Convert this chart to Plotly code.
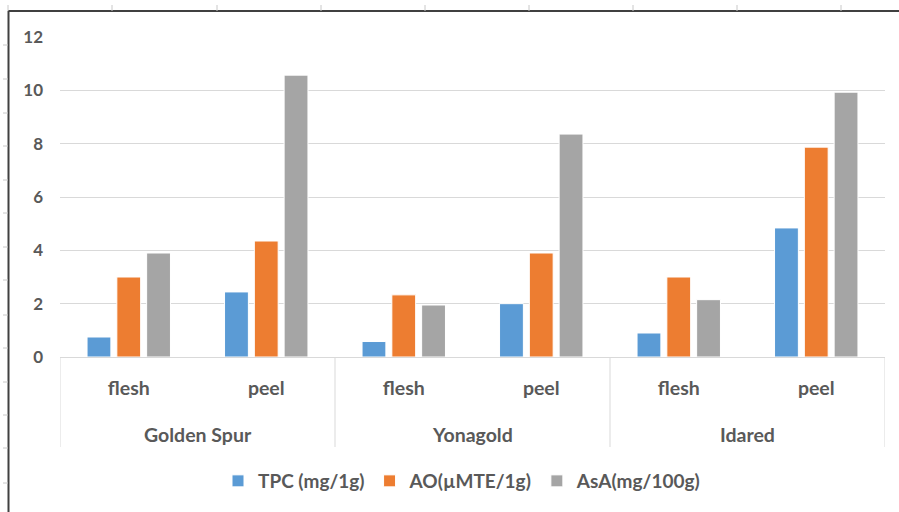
import plotly.graph_objects as go

varieties = ["Golden Spur", "Golden Spur", "Yonagold", "Yonagold", "Idared", "Idared"]
parts = ["flesh", "peel", "flesh", "peel", "flesh", "peel"]
tpc = [0.75, 2.44, 0.58, 2.0, 0.9, 4.84]
ao = [3.0, 4.35, 2.33, 3.9, 3.0, 7.87]
asa = [3.9, 10.57, 1.95, 8.36, 2.15, 9.93]
series_names = ["TPC (mg/1g)", "AO(\u00b5MTE/1g)", "AsA(mg/100g)"]
colors = ["#5B9BD5", "#ED7D31", "#A5A5A5"]
y_ticks = [0, 2, 4, 6, 8, 10, 12]

FONT = "Lato"
GREY = "#595959"
DIV = "#d9d9d9"

xpos = list(range(len(parts)))

fig = go.Figure()
for name, vals, col in zip(series_names, [tpc, ao, asa], colors):
    fig.add_trace(go.Bar(
        x=xpos, y=vals, name=name,
        marker=dict(color=col, line=dict(color="white", width=1)),
    ))

# plot area: x pixels 60..885, y pixels 37..357
def px_to_xp(px):
    return (px - 60) / 825

def py_to_yp(py):
    return (357 - py) / 320

shapes = []
annotations = []

# group labels and dividers
groups = []
for i, v in enumerate(varieties):
    if not groups or groups[-1][0] != v:
        groups.append([v, i, i])
    else:
        groups[-1][2] = i
bounds = [g[1] - 0.5 for g in groups] + [groups[-1][2] + 0.5]
for b in bounds:
    shapes.append(dict(type="line", xref="x", yref="paper", x0=b, x1=b, y0=0, y1=py_to_yp(447),
                       line=dict(color=DIV, width=1)))
for v, i0, i1 in groups:
    annotations.append(dict(x=(i0 + i1) / 2, y=py_to_yp(434), xref="x", yref="paper",
                            text=v, showarrow=False, xanchor="center", yanchor="middle",
                            font=dict(family=FONT, size=19.5, color=GREY, weight="bold")))

# spreadsheet frame
shapes.append(dict(type="line", xref="paper", yref="paper", x0=px_to_xp(8), x1=px_to_xp(899),
                   y0=py_to_yp(11), y1=py_to_yp(11), line=dict(color="#404040", width=2)))
shapes.append(dict(type="line", xref="paper", yref="paper", x0=px_to_xp(8.5), x1=px_to_xp(8.5),
                   y0=py_to_yp(11), y1=py_to_yp(512), line=dict(color="#404040", width=2)))
for px in [8, 112, 217, 321, 425, 529, 633, 737, 841]:
    shapes.append(dict(type="line", xref="paper", yref="paper", x0=px_to_xp(px), x1=px_to_xp(px),
                       y0=py_to_yp(11), y1=py_to_yp(5), line=dict(color="#c8c8c8", width=1)))
for py in [45, 79, 113, 146, 180, 213, 247, 280, 315, 348, 382, 415, 448, 483]:
    shapes.append(dict(type="line", xref="paper", yref="paper", x0=px_to_xp(3), x1=px_to_xp(8),
                       y0=py_to_yp(py), y1=py_to_yp(py), line=dict(color="#c8c8c8", width=1)))

fig.update_layout(
    width=899, height=512,
    margin=dict(l=60, r=14, t=37, b=155),
    paper_bgcolor="white", plot_bgcolor="white",
    barmode="group", bargap=0.35, bargroupgap=0.2,
    font=dict(family=FONT, color=GREY, size=18),
    showlegend=True,
    legend=dict(orientation="h", x=px_to_xp(462), xanchor="center", y=py_to_yp(481), yanchor="middle",
                font=dict(family=FONT, size=19, color=GREY, weight="bold"),
                itemwidth=30, traceorder="normal"),
    shapes=shapes,
    annotations=annotations,
    xaxis=dict(
        range=[-0.5, len(parts) - 0.5],
        tickvals=xpos, ticktext=parts,
        showline=True, linecolor=DIV, linewidth=1,
        tickfont=dict(family=FONT, size=19.5, color=GREY, weight="bold"),
        ticklabelstandoff=14,
        showgrid=False, ticks="", zeroline=False,
    ),
    yaxis=dict(
        range=[0, 12], tickvals=y_ticks,
        showgrid=True, gridcolor=DIV, gridwidth=1,
        zeroline=False, showline=False, ticks="",
        ticklabelstandoff=16,
        tickfont=dict(family=FONT, size=17, color=GREY, weight="bold"),
    ),
)

fig.write_html("out.html", config={"displayModeBar": False},
               post_script="document.body.style.margin='0';")
